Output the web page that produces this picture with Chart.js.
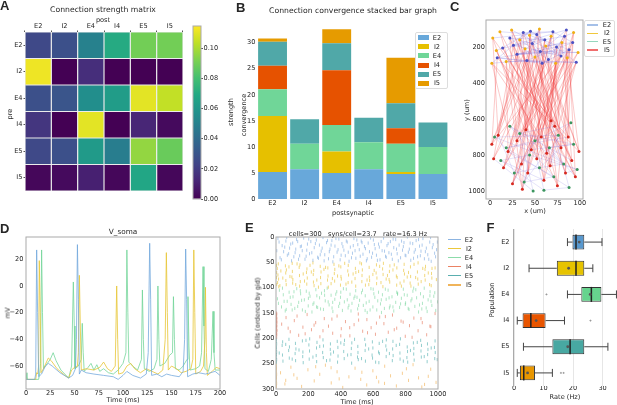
<!DOCTYPE html>
<html><head><meta charset="utf-8">
<script src="https://cdn.jsdelivr.net/npm/chart.js@4.4.1/dist/chart.umd.min.js"></script>
<style>
html,body{margin:0;padding:0;background:#fff;width:617px;height:405px;overflow:hidden;position:relative;font-family:'DejaVu Sans',sans-serif;color:#262626}
canvas{position:absolute}
.t{position:absolute;white-space:pre;transform:translate(-50%,-50%);font-size:6.6px;line-height:1}
.tr{transform:translate(-50%,-50%) rotate(-90deg)}
.L{position:absolute;font-family:'Liberation Sans',Arial,sans-serif;font-weight:bold;font-size:13px;line-height:13px}
.lg{position:absolute;font-size:6.6px;line-height:1;white-space:nowrap}
.box{position:absolute;border:1px solid #ddd;border-radius:2px;background:rgba(255,255,255,0.85);box-sizing:border-box}
</style></head><body>
<script>
// ---------------- DATA ----------------
const pops = ['E2','I2','E4','I4','E5','I5'];

// A: connection strength (rows = pre, columns = post)
const strengthE2 = [0.025,0.028,0.050,0.070,0.090,0.090];
const strengthI2 = [0.112,0.000,0.015,0.000,0.000,0.000];
const strengthE4 = [0.028,0.030,0.056,0.063,0.110,0.104];
const strengthI4 = [0.018,0.000,0.110,0.000,0.012,0.003];
const strengthE5 = [0.025,0.028,0.062,0.048,0.096,0.088];
const strengthI5 = [0.002,0.003,0.010,0.002,0.068,0.002];
const strengthMax = 0.1146;
const strengthTicks = [0,0.02,0.04,0.06,0.08,0.10];

// B: convergence by presynaptic population, per postsynaptic population
const convE2 = [5.2,5.7,5.0,5.7,4.8,4.8];
const convI2 = [10.75,0,4.1,0,0.4,0];
const convE4 = [5.1,4.9,5.1,5.2,5.4,5.2];
const convI4 = [4.55,0,10.5,0,3.0,0];
const convE5 = [4.6,4.7,5.2,4.7,4.8,4.7];
const convI5 = [0.6,0,2.7,0,8.7,0];
const convTicks = [0,5,10,15,20,25,30];
const convMax = 34;

// C: cell positions (x um, y um)
const posE2 = [[14,205],[22,150],[30,240],[37,120],[41,275],[47,180],[52,130],[56,225],[61,160],[65,270],[70,115],[74,200],[79,250],[83,140],[88,215],[92,175],[96,285],[8,260],[26,190],[45,112],[58,290],[85,105]];
const posI2 = [[3,150],[7,220],[11,115],[18,280],[24,105],[33,160],[39,210],[44,135],[50,255],[55,100],[62,195],[68,140],[73,290],[80,175],[86,260],[93,120],[98,230],[2,290]];
const posE5 = [[5,700],[12,830],[18,760],[27,900],[33,680],[38,950],[44,800],[50,720],[55,870],[60,995],[66,760],[71,920],[76,690],[82,850],[88,980],[93,740],[97,880],[22,640],[48,1000],[90,620]];
const posI5 = [[2,740],[4,820],[9,690],[15,870],[20,780],[25,960],[30,720],[35,850],[40,660],[42,900],[46,770],[52,820],[57,700],[60,940],[63,790],[67,860],[72,640],[75,970],[79,760],[84,900],[87,700],[91,830],[95,920],[99,780],[36,990],[68,610]];
// connections: [pre index, post index]; top targets index posE2 then posI2, bottom index posE5 then posI5
const connI5toTop = [[0,5],[0,17],[1,9],[1,30],[2,3],[2,22],[3,12],[3,36],[4,7],[4,25],[5,14],[5,33],[6,1],[6,28],[7,19],[7,38],[8,10],[8,26],[9,4],[9,31],[10,16],[10,35],[11,8],[11,24],[12,13],[12,39],[13,2],[13,29],[14,20],[14,34],[15,6],[15,27],[16,11],[16,37],[17,15],[17,23],[18,0],[18,32],[19,18],[19,21],[20,9],[20,36],[21,3],[21,26],[22,14],[22,30],[23,7],[23,39],[24,12],[24,25],[25,5],[25,33],[0,28],[3,20],[6,15],[9,37],[12,1],[15,23],[18,10],[21,35],[24,19],[2,31],[5,8],[8,38],[11,16],[14,27],[17,4],[20,29],[23,13],[10,22],[1,18],[4,33],[7,2],[10,29],[13,16],[16,5],[19,37],[22,24],[25,11],[3,30],[6,21],[9,8],[12,35],[15,14],[18,26],[21,1],[24,39],[0,12],[2,27],[5,36],[8,3],[11,20],[14,9],[17,31],[20,17],[23,6],[25,22],[13,34],[19,28],[22,0]];
const connE2toTop = [[0,5],[0,23],[1,8],[1,30],[2,14],[2,35],[3,10],[3,27],[4,16],[4,39],[5,1],[5,31],[6,12],[6,24],[7,3],[7,38],[8,19],[8,28],[9,6],[9,33],[10,15],[10,22],[11,2],[11,36],[12,18],[12,26],[13,9],[13,37],[14,20],[14,29],[15,4],[15,32],[16,11],[16,25],[17,7],[17,34],[18,13],[18,21],[19,0],[19,39],[20,17],[21,30],[2,38],[5,20],[9,27]];
const connBottom = [[0,16],[0,27],[1,9],[1,33],[2,12],[2,40],[3,7],[3,22],[4,15],[4,36],[5,11],[5,29],[6,1],[6,44],[7,19],[7,25],[8,3],[8,38],[9,14],[9,31],[10,5],[10,42],[11,17],[11,24],[12,0],[12,35],[13,8],[13,28],[14,2],[14,45],[15,10],[15,30],[16,6],[16,39],[17,13],[18,21],[19,34],[18,4],[17,41]];
const cTicksX = [0,25,50,75,100];
const cTicksY = [200,400,600,800,1000];

// D: somatic voltage traces [time ms, mV]
const traceBlue = [[0,-70],[9,-70],[10,-66],[11,27],[12,-20],[13,-68],[16,-66],[20,-60],[23,-58],[27,-60],[35,-65],[44,-69],[48,-67],[51,-62],[52,-40],[53,31],[54,-10],[55,-66],[57,-63],[62,-65],[70,-66],[80,-67],[90,-68],[95,-70],[100,-67],[104,-64],[110,-67],[118,-69],[124,-66],[126,-50],[127.5,32],[128.5,-10],[129.5,-67],[135,-66],[140,-68],[145,-66],[150,-67],[158,-68],[162,-64],[163.5,-40],[164.6,27.7],[165.6,-10],[166.6,-68],[172,-66],[178,-65],[185,-66],[190,-65],[195,-64],[200,-67]];
const traceYellow = [[0,-70],[10,-70],[11,-65],[12,-66],[13,-60],[13.7,19],[14.7,-20],[15.5,-65],[18,-62],[23,-54],[26,-56],[32,-62],[40,-67],[44,-69],[47,-63],[50,-61],[53,-60],[54,-50],[55,8],[56,-30],[57,-63],[62,-62],[70,-63],[76,-61],[80,-57],[84,-62],[88,-64],[92,-60],[93.5,0],[94.5,-40],[95.5,-66],[100,-65],[104,-60],[108,-58],[112,-62],[118,-65],[124,-62],[130,-64],[136,-66],[141,-63],[143.5,-40],[144.7,25],[145.7,-20],[146.7,-63],[150,-60],[155,-62],[160,-65],[165,-64],[170,-62],[172,-55],[173,27],[174,-20],[175,-66],[180,-64],[183,-60],[184.5,-40],[185,-1],[186,-50],[187,-67],[192,-64],[196,-61],[200,-62]];
const traceGreen = [[0,-65],[1,-70],[13,-70],[14,-66],[15,-58],[16.1,27],[17,-20],[18,-62],[22,-58],[25,-55],[28,-50],[31,-56],[36,-63],[44,-69],[47,-60],[48.8,3],[49.8,-30],[50.5,-62],[54,-60],[57,-55],[58,-28],[59,-50],[60,-64],[64,-61],[67,-58],[70,-63],[73,-59],[76,-64],[80,-62],[85,-65],[90,-66],[95,-63],[100,-58],[103,-50],[104,27],[105,-20],[106,-57],[110,-60],[115,-63],[119,-55],[120,-3],[121,-40],[122,-62],[127,-64],[132,-62],[135,-55],[136,0],[137,-40],[138,-60],[143,-58],[148,-52],[151,-50],[152,-8],[153,-40],[154,-62],[158,-63],[162,-60],[166,-55],[167,-8],[168,-45],[169,-63],[175,-62],[179,-60],[181,-50],[182.5,14.5],[183.5,-30],[184.5,-62],[188,-64],[191,-55],[192.8,-19],[193.8,-50],[195,-63],[200,-63]];
const dTicksX = [0,25,50,75,100,125,150,175,200];
const dTicksY = [-60,-40,-20,0,20];
const dMin = -77.2, dMax = 36.7;

// E: spike raster, flat [time ms, cell index within population, ...]
const popStart = [0,50,100,150,200,250];
const spikesE2 = [12,3,25,41,38,17,47,29,61,8,70,36,84,22,96,47,103,12,118,31,127,5,139,44,150,19,162,27,171,2,186,38,194,14,207,33,215,9,228,46,236,21,249,6,257,40,268,16,279,28,290,1,301,35,312,11,324,43,333,24,345,7,356,39,364,18,377,30,388,4,396,45,407,13,419,26,428,37,440,10,451,48,459,20,472,32,481,3,493,42,505,15,514,25,526,8,537,34,546,19,558,47,569,12,577,29,590,40,601,6,612,23,620,36,633,14,642,45,655,27,664,2,676,38,685,17,697,31,706,9,718,44,727,21,739,5,748,33,760,16,769,41,781,26,790,11,802,37,811,0,823,24,832,46,844,13,853,30,865,7,874,39,886,18,895,28,907,3,916,43,928,22,937,35,949,10,958,48,970,15,979,32,991,25,5,27,19,10,33,45,54,20,66,1,78,33,91,14,110,39,122,24,134,9,146,37,157,18,179,44,190,26,202,4,221,31,243,13,262,42,273,35,285,22,297,47,318,7,329,29,340,16,351,49,370,3,383,25,402,36,413,19,434,8,446,30,466,41,477,17,488,27,499,6,520,38,531,11,552,23,563,43,584,2,596,32,607,15,626,46,638,20,649,9,670,28,681,40,692,13,712,34,723,4,744,24,755,47,775,8,786,19,797,36,817,30,828,12,849,42,860,25,880,5,891,37,902,16,922,29,943,44,954,1,965,21,985,39,996,10];
const spikesI2 = [8,12,10,40,12,25,14,3,16,33,17,48,3,6,4,20,3,30,4,44,58,7,60,21,61,36,63,44,64,15,98,29,100,2,101,18,103,41,104,34,143,10,145,26,146,47,148,5,150,38,188,20,190,43,191,13,193,31,228,1,230,24,231,39,233,16,235,46,273,8,275,30,277,42,278,19,318,35,320,11,321,27,323,49,358,4,360,22,362,37,363,14,398,45,400,9,401,28,403,33,443,17,445,40,446,6,448,25,488,32,490,12,492,47,493,20,528,3,530,38,531,26,533,15,573,44,575,10,576,29,578,36,618,21,620,5,621,42,623,31,658,13,660,48,661,24,663,2,698,34,700,18,702,39,703,7,743,27,745,45,746,11,748,30,788,16,790,37,791,4,793,23,828,41,830,9,831,28,833,47,873,19,875,33,877,1,878,43,918,26,920,14,921,35,923,8,958,46,960,22,962,31,963,12,30,17,42,31,80,9,122,44,168,23,210,6,252,35,296,14,340,42,380,27,424,2,468,39,510,18,552,45,598,24,640,8,680,33,722,15,766,41,810,29,852,4,896,38,940,21,982,11,24,46,86,28,130,3,176,37,218,19,262,49,306,10,348,32,388,7,432,43,476,23,518,1,562,35,606,16,648,40,688,26,730,5,774,47,818,20,862,30,906,12,948,44,990,34];
const spikesE4 = [9,22,21,5,34,38,45,14,57,46,69,27,81,9,93,33,105,18,116,41,128,2,140,29,152,12,163,44,175,24,187,7,199,36,210,17,222,48,234,30,246,4,257,39,269,20,281,11,293,43,304,26,316,1,328,34,340,15,351,47,363,23,375,8,387,37,398,19,410,45,422,28,434,3,445,40,457,13,469,31,481,21,492,6,504,42,516,25,528,10,539,35,551,16,563,49,575,27,586,2,598,38,610,19,622,44,633,9,645,32,657,14,669,41,680,23,692,5,704,36,716,18,727,46,739,29,751,11,763,39,774,21,786,3,798,33,810,15,821,43,833,26,845,7,857,37,868,20,880,48,892,12,904,31,915,1,927,40,939,24,951,8,962,35,974,17,986,45,997,28,15,31,40,1,63,43,88,19,111,8,134,37,158,25,181,47,205,11,228,33,252,16,275,42,299,6,322,28,346,40,369,13,393,31,416,2,440,24,463,46,487,17,510,35,534,5,557,30,581,44,604,12,628,26,651,49,675,3,698,20,722,38,745,9,769,32,792,14,816,41,839,22,863,4,886,34,910,18,933,47,957,27,980,10,50,27,100,44,150,6,200,21,250,38,300,15,350,29,400,9,450,35,500,19,550,45,600,3,650,24,700,40,750,13,800,30,850,1,900,42,950,16];
const spikesI4 = [2,0,3,4,2,8,4,12,3,16,2,20,4,24,3,28,2,32,4,36,3,40,2,44,4,48,5,2,5,10,6,18,5,26,6,34,5,42,35,22,62,9,88,37,113,15,140,44,166,28,192,3,219,33,245,19,271,47,298,11,324,26,350,40,377,6,403,31,429,17,456,45,482,23,508,2,535,36,561,13,587,29,614,42,640,8,666,21,693,38,719,4,745,30,772,16,798,46,824,25,851,10,877,35,903,19,930,43,956,27,982,1,75,30,130,6,180,41,235,24,290,35,345,12,400,45,455,29,510,14,565,39,620,20,675,7,730,33,785,18,840,48,895,11,950,26];
const spikesE5 = [3,1,2,6,4,11,3,17,2,22,4,27,3,32,2,37,4,42,3,47,38,14,40,33,41,7,43,45,78,24,80,2,82,39,83,17,118,30,120,10,121,44,123,21,163,5,165,36,166,27,168,48,203,13,205,41,207,25,208,1,248,34,250,19,251,46,253,8,288,28,290,3,292,38,293,15,333,43,335,22,336,11,338,31,378,6,380,47,382,18,383,35,418,26,420,12,421,40,423,4,463,32,465,20,467,49,468,9,503,37,505,16,506,28,508,42,548,2,550,24,552,45,553,13,593,33,595,7,596,39,598,19,633,27,635,48,637,10,638,30,678,15,680,36,681,3,683,23,718,44,720,21,722,6,723,34,763,12,765,29,766,41,768,1,808,38,810,17,812,26,813,47,848,9,850,31,851,20,853,43,893,4,895,25,897,37,898,14,933,46,935,11,936,32,938,22,978,18,980,40,982,5,983,28,20,29,60,12,100,41,142,23,185,4,228,37,270,16,312,44,355,27,400,9,442,33,485,2,528,40,572,21,615,47,658,6,700,30,742,14,786,45,830,24,872,8,915,36,958,19,995,42];
const spikesI5 = [2,3,3,9,2,15,4,21,3,27,2,33,4,39,3,45,28,18,55,40,92,7,130,29,158,45,197,12,236,34,270,21,305,3,341,38,377,16,412,47,450,26,488,9,523,31,560,42,598,14,634,36,671,5,707,24,743,44,780,19,818,33,846,2,880,28,917,41,955,11,988,37,110,22,245,6,390,30,530,17,670,39,805,10,940,25,60,33,340,8,620,27,900,46];
const eTicksX = [0,200,400,600,800,1000];
const eTicksY = [0,50,100,150,200,250,300];

// F: firing-rate box plots (Hz)
const boxQ1 = [19.8,14.5,22.8,2.9,13.0,2.0];
const boxQ3 = [23.8,23.8,29.6,10.7,23.8,7.1];
const boxMed = [21.0,21.0,26.2,5.7,19.0,3.3];
const boxMean = [22.1,18.5,25.8,7.5,18.2,4.6];
const whiskLo = [18.1,5.1,18.1,1.1,3.2,1.1];
const whiskHi = [29.8,26.7,34.7,17.1,31.8,13.0];
const outlierPop = ['E4','I4','I5','I5'];
const outlierVal = [11.0,25.9,15.9,16.8];
const fTicksX = [0,10,20,30];

// ---------------- STYLE ----------------
const colB = ['rgb(104,168,218)','rgb(230,192,0)','rgb(112,214,152)','rgb(230,82,0)','rgb(80,168,168)','rgb(230,155,0)'];
const colF = ['rgb(88,152,206)','rgb(230,195,0)','rgb(102,212,142)','rgb(232,85,0)','rgb(72,168,162)','rgb(232,150,0)'];
const colE = ['rgba(110,160,220,0.55)','rgba(232,190,40,0.6)','rgba(110,210,150,0.55)','rgba(225,100,70,0.55)','rgba(60,165,165,0.55)','rgba(240,165,60,0.55)'];
const colELeg = ['rgb(140,180,225)','rgb(235,200,60)','rgb(140,220,170)','rgb(235,130,100)','rgb(90,175,175)','rgb(240,180,90)'];
const viridis = ['#440154','#482475','#414487','#355f8d','#2a788e','#21918c','#22a884','#44bf70','#7ad151','#bddf26','#fde725'];
function hex(h){return [1,3,5].map(i=>parseInt(h.slice(i,i+2),16));}
function vir(v){const f=Math.max(0,Math.min(1,v/strengthMax))*10;const i=Math.min(9,Math.floor(f));const r=f-i;const a=hex(viridis[i]),b=hex(viridis[i+1]);return 'rgb('+a.map((c,k)=>Math.round(c+(b[k]-c)*r)).join(',')+')';}
const minus = v => String(v).replace('-','\u2212');
const plain = v => String(v);

Chart.defaults.font.family = 'DejaVu Sans';
Chart.defaults.font.size = 6.6;
Chart.defaults.color = '#262626';
Chart.register({id:'frame', afterDatasetsDraw(chart,args,opts){ if(!opts||!opts.color) return; const a=chart.chartArea,c=chart.ctx; c.save(); c.strokeStyle=opts.color; c.lineWidth=1; c.strokeRect(a.left,a.top,a.right-a.left,a.bottom-a.top); c.restore(); }});

function place(rect, area, cfg){
  const [cx,cy,cw,ch] = rect;
  const m = {left:area[0]-cx, top:area[1]-cy, right:cx+cw-area[2], bottom:cy+ch-area[3]};
  const used = {};
  for (const id in cfg.options.scales){
    const s = cfg.options.scales[id];
    if (s.display === false) continue;
    const pos = s.position; used[pos] = true; const size = m[pos];
    s.afterFit = sc => { if (pos==='left'||pos==='right') sc.width = size; else sc.height = size; };
  }
  cfg.options.layout = {padding:{left:used.left?0:m.left, top:used.top?0:m.top, right:used.right?0:m.right, bottom:used.bottom?0:m.bottom}};
  cfg.options.responsive = false; cfg.options.animation = false; cfg.options.events = [];
  cfg.options.plugins = Object.assign({legend:{display:false}, tooltip:{enabled:false}}, cfg.options.plugins||{});
  const cv = document.createElement('canvas');
  cv.width = cw; cv.height = ch;
  Object.assign(cv.style,{left:cx+'px',top:cy+'px',width:cw+'px',height:ch+'px'});
  document.body.appendChild(cv);
  return new Chart(cv, cfg);
}
const fixTicks = arr => ax => { ax.ticks = arr.map(v=>({value:v})); };
const noGrid = {display:false, drawTicks:false, tickLength:0};
const tickGrid = (len) => ({display:true, drawOnChartArea:false, drawTicks:true, tickLength:len, color:'#555'});

// ---------------- A: heatmap ----------------
const strengthRows = [strengthE2,strengthI2,strengthE4,strengthI4,strengthE5,strengthI5];
place([0,0,200,200],[25,32,183,191],{
  type:'bar',
  data:{labels:pops, datasets:strengthRows.map((row,i)=>({label:pops[i], data:row.map(()=>1), backgroundColor:row.map(vir), borderColor:'rgba(200,200,200,0.7)', borderWidth:0.6, borderSkipped:false, barPercentage:1, categoryPercentage:1, inflateAmount:0}))},
  options:{scales:{
    x:{position:'top', stacked:true, grid:tickGrid(1.5), border:{display:false}, ticks:{padding:0}},
    y:{position:'left', stacked:true, reverse:true, min:0, max:6, afterBuildTicks:fixTicks([0.5,1.5,2.5,3.5,4.5,5.5]), ticks:{callback:(v,i)=>pops[i], padding:1}, grid:tickGrid(1.5), border:{display:false}}
  }}
});
// colorbar
place([186,16,40,192],[193,26,201,199],{
  type:'bar',
  data:{labels:[''], datasets:[{data:[[0,strengthMax]], backgroundColor:ctx=>{const ca=ctx.chart.chartArea; if(!ca) return viridis[5]; const g=ctx.chart.ctx.createLinearGradient(0,ca.bottom,0,ca.top); viridis.forEach((c,i)=>g.addColorStop(i/10,c)); return g;}, barPercentage:1, categoryPercentage:1, borderWidth:0}]},
  options:{plugins:{frame:{color:'#aaa'}}, scales:{
    x:{display:false},
    y:{position:'right', min:0, max:strengthMax, afterBuildTicks:fixTicks(strengthTicks), ticks:{callback:v=>v.toFixed(2), padding:0.5}, grid:tickGrid(2), border:{display:false}}
  }}
});

// ---------------- B: stacked bars ----------------
place([222,14,241,210],[256.5,21.9,449,199],{
  type:'bar',
  data:{labels:pops, datasets:[convE2,convI2,convE4,convI4,convE5,convI5].map((d,i)=>({label:pops[i], data:d, backgroundColor:colB[i], borderWidth:0, barPercentage:0.9, categoryPercentage:1}))},
  options:{scales:{
    x:{position:'bottom', stacked:true, grid:noGrid, border:{display:false}, ticks:{padding:0}},
    y:{position:'left', stacked:true, min:0, max:convMax, afterBuildTicks:fixTicks(convTicks), grid:noGrid, border:{display:false}, ticks:{callback:plain, padding:1}}
  }}
});

// ---------------- C: network positions ----------------
const topCells = posE2.concat(posI2), botCells = posE5.concat(posI5);
const P = a => ({x:a[0], y:a[1]});
function segs(pairs, from, to){ const o=[]; pairs.forEach(([a,b])=>{ o.push(P(from[a]),P(to[b]),{x:null,y:null}); }); return o; }
place([460,10,138,202],[486,20,583,199],{
  type:'scatter',
  data:{datasets:[
    {data:posE2.map(P), backgroundColor:'rgb(75,80,195)', pointRadius:1.5, borderWidth:0},
    {data:posI2.map(P), backgroundColor:'rgb(240,175,20)', pointRadius:1.5, borderWidth:0},
    {data:posE5.map(P), backgroundColor:'rgb(60,150,95)', pointRadius:1.5, borderWidth:0},
    {data:posI5.map(P), backgroundColor:'rgb(215,40,30)', pointRadius:1.5, borderWidth:0},
    {data:segs(connE2toTop,posE2,topCells), showLine:true, spanGaps:false, pointRadius:0, borderWidth:0.6, borderColor:'rgba(95,95,225,0.35)'},
    {data:segs(connBottom,botCells,botCells), showLine:true, spanGaps:false, pointRadius:0, borderWidth:0.6, borderColor:'rgba(110,100,220,0.3)'},
    {data:segs(connI5toTop,posI5,topCells), showLine:true, spanGaps:false, pointRadius:0, borderWidth:0.7, borderColor:'rgba(240,55,55,0.38)'}
  ]},
  options:{plugins:{frame:{color:'#aaa'}}, scales:{
    x:{position:'bottom', type:'linear', min:-4.5, max:103.5, afterBuildTicks:fixTicks(cTicksX), grid:noGrid, border:{display:false}, ticks:{callback:plain, padding:0}},
    y:{position:'left', type:'linear', reverse:true, min:50, max:1044, afterBuildTicks:fixTicks(cTicksY), grid:noGrid, border:{display:false}, ticks:{callback:plain, padding:1}}
  }}
});

// ---------------- D: voltage traces ----------------
const PT = a => ({x:a[0], y:a[1]});
place([0,228,234,170],[26,237,220,389],{
  type:'scatter',
  data:{datasets:[
    {data:traceBlue.map(PT), showLine:true, pointRadius:0, borderWidth:0.9, borderColor:'rgba(110,165,220,0.85)'},
    {data:traceYellow.map(PT), showLine:true, pointRadius:0, borderWidth:0.9, borderColor:'rgba(232,198,55,0.9)'},
    {data:traceGreen.map(PT), showLine:true, pointRadius:0, borderWidth:0.9, borderColor:'rgba(110,212,150,0.85)'}
  ]},
  options:{plugins:{frame:{color:'#aaa'}}, scales:{
    x:{position:'bottom', type:'linear', min:0, max:200, afterBuildTicks:fixTicks(dTicksX), grid:noGrid, border:{display:false}, ticks:{callback:plain, padding:0}},
    y:{position:'left', type:'linear', min:dMin, max:dMax, afterBuildTicks:fixTicks(dTicksY), ticks:{callback:minus, padding:2.5}, grid:noGrid, border:{display:false}}
  }}
});

// ---------------- E: raster ----------------
function toPts(arr, base){ const o=[]; for(let i=0;i<arr.length;i+=2) o.push({x:arr[i], y:base+arr[i+1]}); return o; }
const spikeSets = [spikesE2,spikesI2,spikesE4,spikesI4,spikesE5,spikesI5];
place([246,228,204,172],[276,237,438,389],{
  type:'scatter',
  data:{datasets:spikeSets.map((s,i)=>({data:toPts(s,popStart[i]), borderColor:colE[i], pointStyle:'line', rotation:90, pointRadius:1.6, borderWidth:1}))},
  options:{plugins:{frame:{color:'#aaa'}}, scales:{
    x:{position:'bottom', type:'linear', min:0, max:1000, afterBuildTicks:fixTicks(eTicksX), grid:noGrid, border:{display:false}, ticks:{callback:plain, padding:1.3}},
    y:{position:'left', type:'linear', reverse:true, min:0, max:300, afterBuildTicks:fixTicks(eTicksY), grid:noGrid, border:{display:false}, ticks:{callback:plain, padding:1.5}}
  }}
});

// ---------------- F: box plots ----------------
const gap = {x:null, y:null};
const whiskData = []; pops.forEach((p,i)=>{ whiskData.push({x:whiskLo[i],y:p},{x:boxQ1[i],y:p},gap,{x:boxQ3[i],y:p},{x:whiskHi[i],y:p},gap); });
const capData = []; pops.forEach((p,i)=>{ capData.push({x:whiskLo[i],y:p},{x:whiskHi[i],y:p}); });
place([488,220,142,180],[513,228,620,386],{
  type:'bar',
  data:{labels:pops, datasets:[
    {type:'bar', data:pops.map((p,i)=>[boxQ1[i],boxQ3[i]]), backgroundColor:colF, borderColor:'#333', borderWidth:1, borderSkipped:false, barPercentage:0.57, categoryPercentage:1, order:5},
    {type:'line', data:whiskData, spanGaps:false, pointRadius:0, borderWidth:1, borderColor:'#444', order:4},
    {type:'line', data:capData, showLine:false, pointStyle:'line', rotation:90, pointRadius:4, borderWidth:1, borderColor:'#444', order:3},
    {type:'line', data:pops.map((p,i)=>({x:boxMed[i],y:p})), showLine:false, pointStyle:'line', rotation:90, pointRadius:7.5, borderWidth:1.5, borderColor:'#222', order:1},
    {type:'line', data:pops.map((p,i)=>({x:boxMean[i],y:p})), showLine:false, pointRadius:1.4, borderWidth:0, backgroundColor:'#555', order:0},
    {type:'line', data:outlierVal.map((v,i)=>({x:v,y:outlierPop[i]})), showLine:false, pointStyle:'rectRot', pointRadius:1.2, borderWidth:0, backgroundColor:'#999', order:2}
  ]},
  options:{indexAxis:'y', scales:{
    x:{position:'bottom', type:'linear', min:-0.34, max:35.9, afterBuildTicks:fixTicks(fTicksX), grid:{display:true, drawTicks:false, tickLength:0, color:'#e6e6e6', lineWidth:1}, border:{display:false}, ticks:{callback:plain, padding:-1.5}},
    y:{position:'left', type:'category', grid:noGrid, border:{display:true, color:'#aaa'}, ticks:{padding:3.5}}
  }}
});

// ---------------- TEXT ----------------
function T(s,x,y,o){ o=o||{}; const d=document.createElement('div'); d.className='t'+(o.rot?' tr':''); d.textContent=s; d.style.left=x+'px'; d.style.top=y+'px'; if(o.size) d.style.fontSize=o.size+'px'; document.body.appendChild(d); }
function Lt(s,x,y){ const d=document.createElement('div'); d.className='L'; d.textContent=s; d.style.left=x+'px'; d.style.top=y+'px'; document.body.appendChild(d); }
function div(cls, st){ const d=document.createElement('div'); d.className=cls; Object.assign(d.style, st); document.body.appendChild(d); return d; }

Lt('A',0,-1); Lt('B',236,1); Lt('C',450,0); Lt('D',0,222); Lt('E',245,220.5); Lt('F',486.5,220.5);

T('Connection strength matrix',103,10,{size:7.7});
T('post',103,20);
T('pre',10,114,{rot:1});
T('strength',231,112,{rot:1});

T('Connection convergence stacked bar graph',353,11,{size:7.7});
T('convergence',244,115,{rot:1});
T('postsynaptic',353,213);

T('y (um)',467,110,{rot:1});
T('x (um)',535,211);

T('V_soma',123,232,{size:7.3});
T('mV',8,313,{rot:1});
T('Time (ms)',123,400);

T('cells=300   syns/cell=23.7   rate=16.3 Hz',358,234);
T('Cells (ordered by gid)',258,313,{rot:1});
T('Time (ms)',357,401.5);

T('Population',492,300,{rot:1});
T('Rate (Hz)',565,397);

// B legend
div('box',{left:'415px',top:'32px',width:'33px',height:'57px'});
pops.forEach((p,i)=>{ const y=37.7+9.1*i; div('lg',{left:'418px',top:(y-2.5)+'px',width:'11px',height:'5px',background:colB[i]}); T(p,437,y); });
// C legend
const cLeg = [['E2','rgb(165,192,232)'],['I2','rgb(240,200,60)'],['E5','rgb(150,215,190)'],['I5','rgb(240,110,110)']];
div('box',{left:'584px',top:'20px',width:'31px',height:'37px'});
cLeg.forEach(([p,c],i)=>{ const y=25+8.33*i; div('lg',{left:'587px',top:(y-0.75)+'px',width:'11px',height:'1.5px',background:c}); T(p,607,y); });
// E legend
pops.forEach((p,i)=>{ const y=239.5+9.1*i; div('lg',{left:'448px',top:(y-0.6)+'px',width:'13px',height:'1.2px',background:colELeg[i]}); T(p,469,y); });
</script></body></html>
